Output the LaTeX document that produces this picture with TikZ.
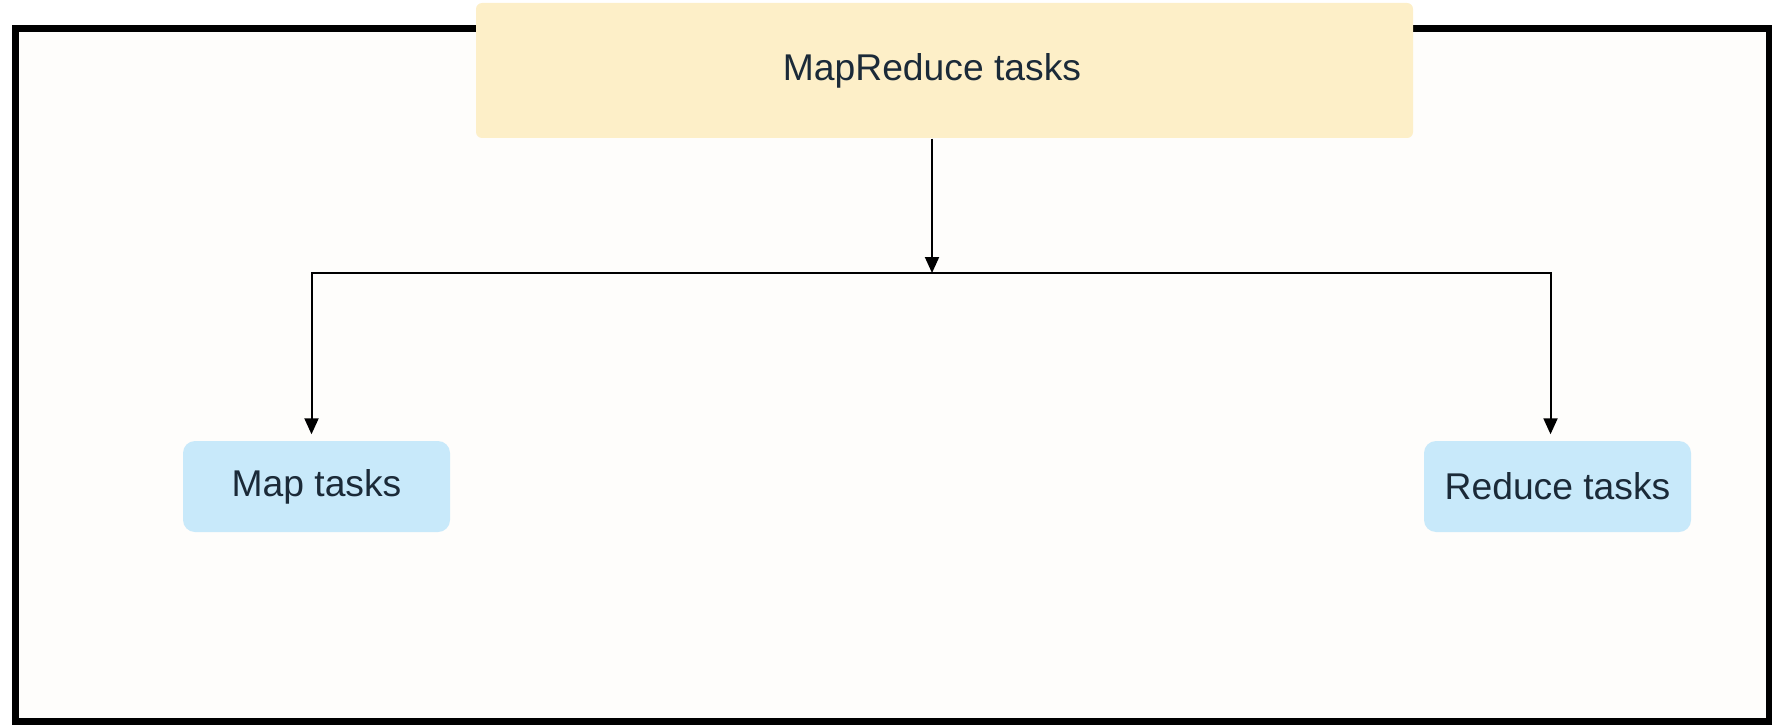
\documentclass[tikz,border=0pt]{standalone}
\usepackage{fontspec}
\setmainfont{Liberation Sans}
\usepackage{tikz}
\usetikzlibrary{positioning}
\usetikzlibrary{arrows.meta}

\definecolor{cream}{HTML}{FDEFC8}
\definecolor{skyblue}{HTML}{C8E9FA}
\definecolor{inkblue}{HTML}{1B2A38}
\definecolor{paper}{HTML}{FEFDFB}

\begin{document}
\begin{tikzpicture}[x=0.1mm, y=-0.1mm,
    topnode/.style={fill=cream, rounded corners=0.6mm, minimum width=93.7mm, minimum height=13.5mm, text=inkblue, font=\fontsize{10.6}{12}\selectfont},
    tasknode/.style={fill=skyblue, rounded corners=1.2mm, minimum width=26.7mm, minimum height=9.1mm, text=inkblue, font=\fontsize{10.6}{12}\selectfont},
    link/.style={-{Triangle[length=1.6mm, width=1.4mm]}, line width=0.2mm}]
    \useasboundingbox (0,0) rectangle (1772,727);
    \draw[line width=0.7mm, fill=paper] (15,29) rectangle (1769,721);

    \node[topnode]  (mrtasks)     at (944.5,70.5)   {\hspace*{-2.5mm}MapReduce tasks};
    \node[tasknode] (maptasks)    at (316.5,486.5)  {Map tasks};
    \node[tasknode] (reducetasks) at (1557.5,486.5) {Reduce tasks};
    \coordinate (fork) at (932,273);

    \draw[link] (fork |- mrtasks.south) -- (fork);
    \draw[link, shorten >=0.6mm] (fork) -| ([xshift=-0.5mm]maptasks.north);
    \draw[link, shorten >=0.6mm] (fork) -| ([xshift=-0.7mm]reducetasks.north);
\end{tikzpicture}
\end{document}
